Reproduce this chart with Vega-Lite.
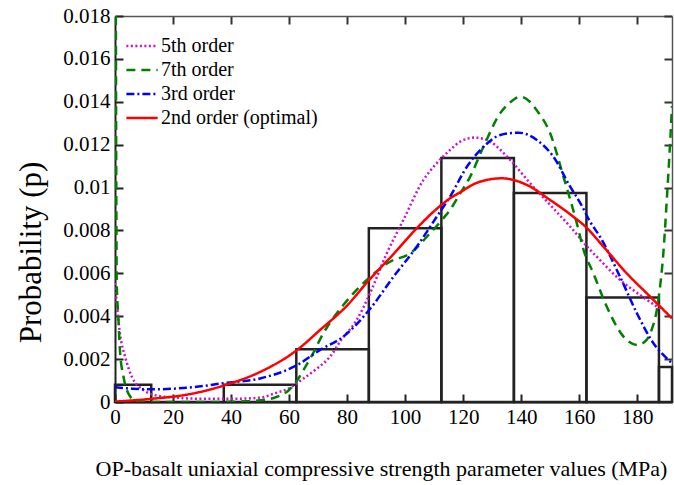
{
  "$schema": "https://vega.github.io/schema/vega-lite/v6.json",
  "width": 557,
  "height": 386,
  "autosize": {"type": "none"},
  "padding": {"left": 115, "top": 16, "right": 2, "bottom": 83},
  "background": "white",
  "config": {
    "view": {"stroke": null},
    "font": "Liberation Serif",
    "axis": {"grid": false, "labelFont": "Liberation Serif", "titleFont": "Liberation Serif", "labelColor": "#000", "titleColor": "#000", "titleFontWeight": "normal"},
    "legend": {"labelFont": "Liberation Serif"}
  },
  "datasets": {
    "bars": [
      {"x0": 0, "x1": 12.5, "p": 0.0008},
      {"x0": 12.5, "x1": 37.5, "p": 0},
      {"x0": 37.5, "x1": 62.5, "p": 0.0008},
      {"x0": 62.5, "x1": 87.5, "p": 0.00246},
      {"x0": 87.5, "x1": 112.5, "p": 0.0081},
      {"x0": 112.5, "x1": 137.5, "p": 0.01138},
      {"x0": 137.5, "x1": 162.5, "p": 0.00975},
      {"x0": 162.5, "x1": 187.5, "p": 0.00487},
      {"x0": 187.5, "x1": 192, "p": 0.00163}
    ],
    "curves": [
      {"series": "5th order", "x": 0, "p": 0.00555},
      {"series": "5th order", "x": 0.6, "p": 0.0046},
      {"series": "5th order", "x": 1.7, "p": 0.0032},
      {"series": "5th order", "x": 3.5, "p": 0.0021},
      {"series": "5th order", "x": 5.8, "p": 0.00118},
      {"series": "5th order", "x": 9.8, "p": 0.00056},
      {"series": "5th order", "x": 14.4, "p": 0.0003},
      {"series": "5th order", "x": 21.3, "p": 0.0002},
      {"series": "5th order", "x": 30, "p": 0.00015},
      {"series": "5th order", "x": 40, "p": 0.00015},
      {"series": "5th order", "x": 50, "p": 0.0002},
      {"series": "5th order", "x": 55, "p": 0.0004},
      {"series": "5th order", "x": 60, "p": 0.00064},
      {"series": "5th order", "x": 65, "p": 0.0011},
      {"series": "5th order", "x": 70, "p": 0.0016},
      {"series": "5th order", "x": 74.1, "p": 0.00211},
      {"series": "5th order", "x": 78, "p": 0.0029},
      {"series": "5th order", "x": 83.3, "p": 0.00382},
      {"series": "5th order", "x": 87.9, "p": 0.00507},
      {"series": "5th order", "x": 93.7, "p": 0.00694},
      {"series": "5th order", "x": 99.4, "p": 0.00849},
      {"series": "5th order", "x": 106.3, "p": 0.01035},
      {"series": "5th order", "x": 110, "p": 0.011},
      {"series": "5th order", "x": 115.5, "p": 0.01175},
      {"series": "5th order", "x": 119, "p": 0.01214},
      {"series": "5th order", "x": 124.1, "p": 0.01233},
      {"series": "5th order", "x": 129.3, "p": 0.01214},
      {"series": "5th order", "x": 136.2, "p": 0.01129},
      {"series": "5th order", "x": 143.1, "p": 0.0102},
      {"series": "5th order", "x": 150, "p": 0.00919},
      {"series": "5th order", "x": 156.9, "p": 0.00818},
      {"series": "5th order", "x": 163.8, "p": 0.00709},
      {"series": "5th order", "x": 167.2, "p": 0.00662},
      {"series": "5th order", "x": 174.1, "p": 0.00569},
      {"series": "5th order", "x": 181, "p": 0.00499},
      {"series": "5th order", "x": 186.8, "p": 0.00445},
      {"series": "5th order", "x": 188, "p": 0.00435},
      {"series": "7th order", "x": 0.3, "p": 0.018},
      {"series": "7th order", "x": 0.45, "p": 0.01},
      {"series": "7th order", "x": 0.6, "p": 0.0055},
      {"series": "7th order", "x": 1.15, "p": 0.004},
      {"series": "7th order", "x": 1.7, "p": 0.0024},
      {"series": "7th order", "x": 2.9, "p": 0.0012},
      {"series": "7th order", "x": 4.6, "p": 0.0004},
      {"series": "7th order", "x": 7.5, "p": 0.00002},
      {"series": "7th order", "x": 15, "p": 0},
      {"series": "7th order", "x": 30, "p": 0},
      {"series": "7th order", "x": 45, "p": 0.00003},
      {"series": "7th order", "x": 50, "p": 0.00008},
      {"series": "7th order", "x": 55, "p": 0.0002},
      {"series": "7th order", "x": 60, "p": 0.00056},
      {"series": "7th order", "x": 62.5, "p": 0.00095},
      {"series": "7th order", "x": 65, "p": 0.0015},
      {"series": "7th order", "x": 68, "p": 0.0022},
      {"series": "7th order", "x": 71.8, "p": 0.0032},
      {"series": "7th order", "x": 78.7, "p": 0.00452},
      {"series": "7th order", "x": 86.8, "p": 0.00569},
      {"series": "7th order", "x": 94.8, "p": 0.00654},
      {"series": "7th order", "x": 101.7, "p": 0.00693},
      {"series": "7th order", "x": 108.6, "p": 0.00787},
      {"series": "7th order", "x": 113.2, "p": 0.00857},
      {"series": "7th order", "x": 115.5, "p": 0.00896},
      {"series": "7th order", "x": 119, "p": 0.00973},
      {"series": "7th order", "x": 122.4, "p": 0.0105},
      {"series": "7th order", "x": 127, "p": 0.0119},
      {"series": "7th order", "x": 132.8, "p": 0.01347},
      {"series": "7th order", "x": 136, "p": 0.01395},
      {"series": "7th order", "x": 139.7, "p": 0.01424},
      {"series": "7th order", "x": 143, "p": 0.014},
      {"series": "7th order", "x": 145.4, "p": 0.0136},
      {"series": "7th order", "x": 150, "p": 0.01253},
      {"series": "7th order", "x": 154.6, "p": 0.0105},
      {"series": "7th order", "x": 159.2, "p": 0.00833},
      {"series": "7th order", "x": 161.5, "p": 0.0071},
      {"series": "7th order", "x": 164.9, "p": 0.006},
      {"series": "7th order", "x": 169.5, "p": 0.00445},
      {"series": "7th order", "x": 175.3, "p": 0.00305},
      {"series": "7th order", "x": 179.9, "p": 0.00266},
      {"series": "7th order", "x": 182.5, "p": 0.0028},
      {"series": "7th order", "x": 184.5, "p": 0.0032},
      {"series": "7th order", "x": 187.3, "p": 0.00476},
      {"series": "7th order", "x": 189.1, "p": 0.00709},
      {"series": "7th order", "x": 190.2, "p": 0.00942},
      {"series": "7th order", "x": 191.4, "p": 0.01222},
      {"series": "7th order", "x": 192, "p": 0.0138},
      {"series": "3rd order", "x": 0, "p": 0.00069},
      {"series": "3rd order", "x": 6, "p": 0.00062},
      {"series": "3rd order", "x": 12, "p": 0.00059},
      {"series": "3rd order", "x": 20, "p": 0.00062},
      {"series": "3rd order", "x": 27, "p": 0.00069},
      {"series": "3rd order", "x": 37, "p": 0.00087},
      {"series": "3rd order", "x": 50, "p": 0.0011},
      {"series": "3rd order", "x": 62.5, "p": 0.0017},
      {"series": "3rd order", "x": 70.7, "p": 0.00243},
      {"series": "3rd order", "x": 78.7, "p": 0.00305},
      {"series": "3rd order", "x": 87.6, "p": 0.00429},
      {"series": "3rd order", "x": 96, "p": 0.00584},
      {"series": "3rd order", "x": 104, "p": 0.00724},
      {"series": "3rd order", "x": 110.9, "p": 0.00864},
      {"series": "3rd order", "x": 115.5, "p": 0.00958},
      {"series": "3rd order", "x": 121.3, "p": 0.01097},
      {"series": "3rd order", "x": 127, "p": 0.0119},
      {"series": "3rd order", "x": 132.8, "p": 0.01245},
      {"series": "3rd order", "x": 139.1, "p": 0.01256},
      {"series": "3rd order", "x": 145.4, "p": 0.01222},
      {"series": "3rd order", "x": 151.1, "p": 0.01144},
      {"series": "3rd order", "x": 156.9, "p": 0.01004},
      {"series": "3rd order", "x": 160.3, "p": 0.0093},
      {"series": "3rd order", "x": 163.8, "p": 0.0084},
      {"series": "3rd order", "x": 167.2, "p": 0.0077},
      {"series": "3rd order", "x": 174.1, "p": 0.00584},
      {"series": "3rd order", "x": 179.9, "p": 0.00414},
      {"series": "3rd order", "x": 185.6, "p": 0.00274},
      {"series": "3rd order", "x": 191.4, "p": 0.00188},
      {"series": "3rd order", "x": 192, "p": 0.0018},
      {"series": "2nd order (optimal)", "x": 0, "p": 0.00002},
      {"series": "2nd order (optimal)", "x": 12, "p": 0.00014},
      {"series": "2nd order (optimal)", "x": 27, "p": 0.0004},
      {"series": "2nd order (optimal)", "x": 38, "p": 0.00079},
      {"series": "2nd order (optimal)", "x": 50, "p": 0.0014},
      {"series": "2nd order (optimal)", "x": 62.5, "p": 0.0024},
      {"series": "2nd order (optimal)", "x": 70.7, "p": 0.00336},
      {"series": "2nd order (optimal)", "x": 80, "p": 0.0045},
      {"series": "2nd order (optimal)", "x": 87.6, "p": 0.00569},
      {"series": "2nd order (optimal)", "x": 96, "p": 0.0069},
      {"series": "2nd order (optimal)", "x": 104, "p": 0.0081},
      {"series": "2nd order (optimal)", "x": 110, "p": 0.0089},
      {"series": "2nd order (optimal)", "x": 115.5, "p": 0.0095},
      {"series": "2nd order (optimal)", "x": 119, "p": 0.00978},
      {"series": "2nd order (optimal)", "x": 124.7, "p": 0.01022},
      {"series": "2nd order (optimal)", "x": 133.3, "p": 0.01043},
      {"series": "2nd order (optimal)", "x": 142, "p": 0.01012},
      {"series": "2nd order (optimal)", "x": 150, "p": 0.00942},
      {"series": "2nd order (optimal)", "x": 158, "p": 0.00864},
      {"series": "2nd order (optimal)", "x": 162, "p": 0.0082},
      {"series": "2nd order (optimal)", "x": 168.4, "p": 0.00724},
      {"series": "2nd order (optimal)", "x": 176.4, "p": 0.006},
      {"series": "2nd order (optimal)", "x": 184.5, "p": 0.00491},
      {"series": "2nd order (optimal)", "x": 192, "p": 0.0039}
    ]
  },
  "layer": [
    {
      "data": {"name": "bars"},
      "mark": {"type": "rect", "filled": false, "stroke": "#222", "strokeWidth": 2.5},
      "encoding": {
        "x": {"field": "x0", "type": "quantitative", "scale": {"domain": [0, 192], "nice": false, "zero": false},
          "axis": {"orient": "bottom", "values": [0, 20, 40, 60, 80, 100, 120, 140, 160, 180], "tickSize": -8, "tickWidth": 2, "tickColor": "#222", "domainColor": "#222", "domainWidth": 2, "labelFont": "Liberation Serif", "labelFontSize": 21, "labelPadding": 12, "labelFlush": false,
            "title": "OP-basalt uniaxial compressive strength parameter values (MPa)", "titleFont": "Liberation Serif", "titleFontSize": 22, "titleX": 266, "titleY": 66, "titleBaseline": "middle", "titleAlign": "center"}},
        "x2": {"field": "x1"},
        "y": {"field": "p", "type": "quantitative", "scale": {"domain": [0, 0.018], "nice": false},
          "axis": {"orient": "left", "values": [0, 0.002, 0.004, 0.006, 0.008, 0.01, 0.012, 0.014, 0.016, 0.018], "format": "~g", "tickSize": -8, "tickWidth": 2, "tickColor": "#222", "domainColor": "#222", "domainWidth": 2, "labelFont": "Liberation Serif", "labelFontSize": 21, "labelPadding": 13, "labelFlush": false,
            "title": "Probability (p)", "titleFont": "Liberation Serif", "titleFontSize": 31, "titleX": -84, "titleY": 236, "titleAngle": 270, "titleBaseline": "middle", "titleAlign": "center"}},
        "y2": {"datum": 0}
      }
    },
    {
      "data": {"name": "curves"},
      "mark": {"type": "line", "strokeWidth": 2.5, "clip": true, "interpolate": "monotone"},
      "encoding": {
        "x": {"field": "x", "type": "quantitative",
          "axis": {"orient": "top", "values": [20, 40, 60, 80, 100, 120, 140, 160, 180], "labels": false, "title": null, "tickSize": -8, "tickWidth": 2, "tickColor": "#333", "domainColor": "#555", "domainWidth": 1.5}},
        "y": {"field": "p", "type": "quantitative",
          "axis": {"orient": "right", "values": [0.002, 0.004, 0.006, 0.008, 0.01, 0.012, 0.014, 0.016, 0.018], "labels": false, "title": null, "tickSize": -8, "tickWidth": 2, "tickColor": "#333", "domainColor": "#555", "domainWidth": 1.5}},
        "color": {"field": "series", "type": "nominal",
          "scale": {"domain": ["5th order", "7th order", "3rd order", "2nd order (optimal)"], "range": ["#cc11cc", "#008000", "#0000ff", "#ff0000"]},
          "legend": {"orient": "none", "legendX": 13, "legendY": 16, "title": null, "symbolType": "M-1.25,0H1.25", "symbolSize": 625, "symbolStrokeWidth": 2.5, "labelFontSize": 20, "labelFont": "Liberation Serif", "labelColor": "#000", "rowPadding": 0, "labelOffset": 5}},
        "strokeDash": {"field": "series", "type": "nominal",
          "scale": {"domain": ["5th order", "7th order", "3rd order", "2nd order (optimal)"], "range": [[2, 2.5], [9, 6], [8, 3, 2, 3], [1, 0]]},
          "legend": {"orient": "none", "legendX": 13, "legendY": 16, "title": null, "symbolType": "M-1.25,0H1.25", "symbolSize": 625, "symbolStrokeWidth": 2.5, "labelFontSize": 20, "labelFont": "Liberation Serif", "labelColor": "#000", "rowPadding": 0, "labelOffset": 5}}
      }
    }
  ]
}
